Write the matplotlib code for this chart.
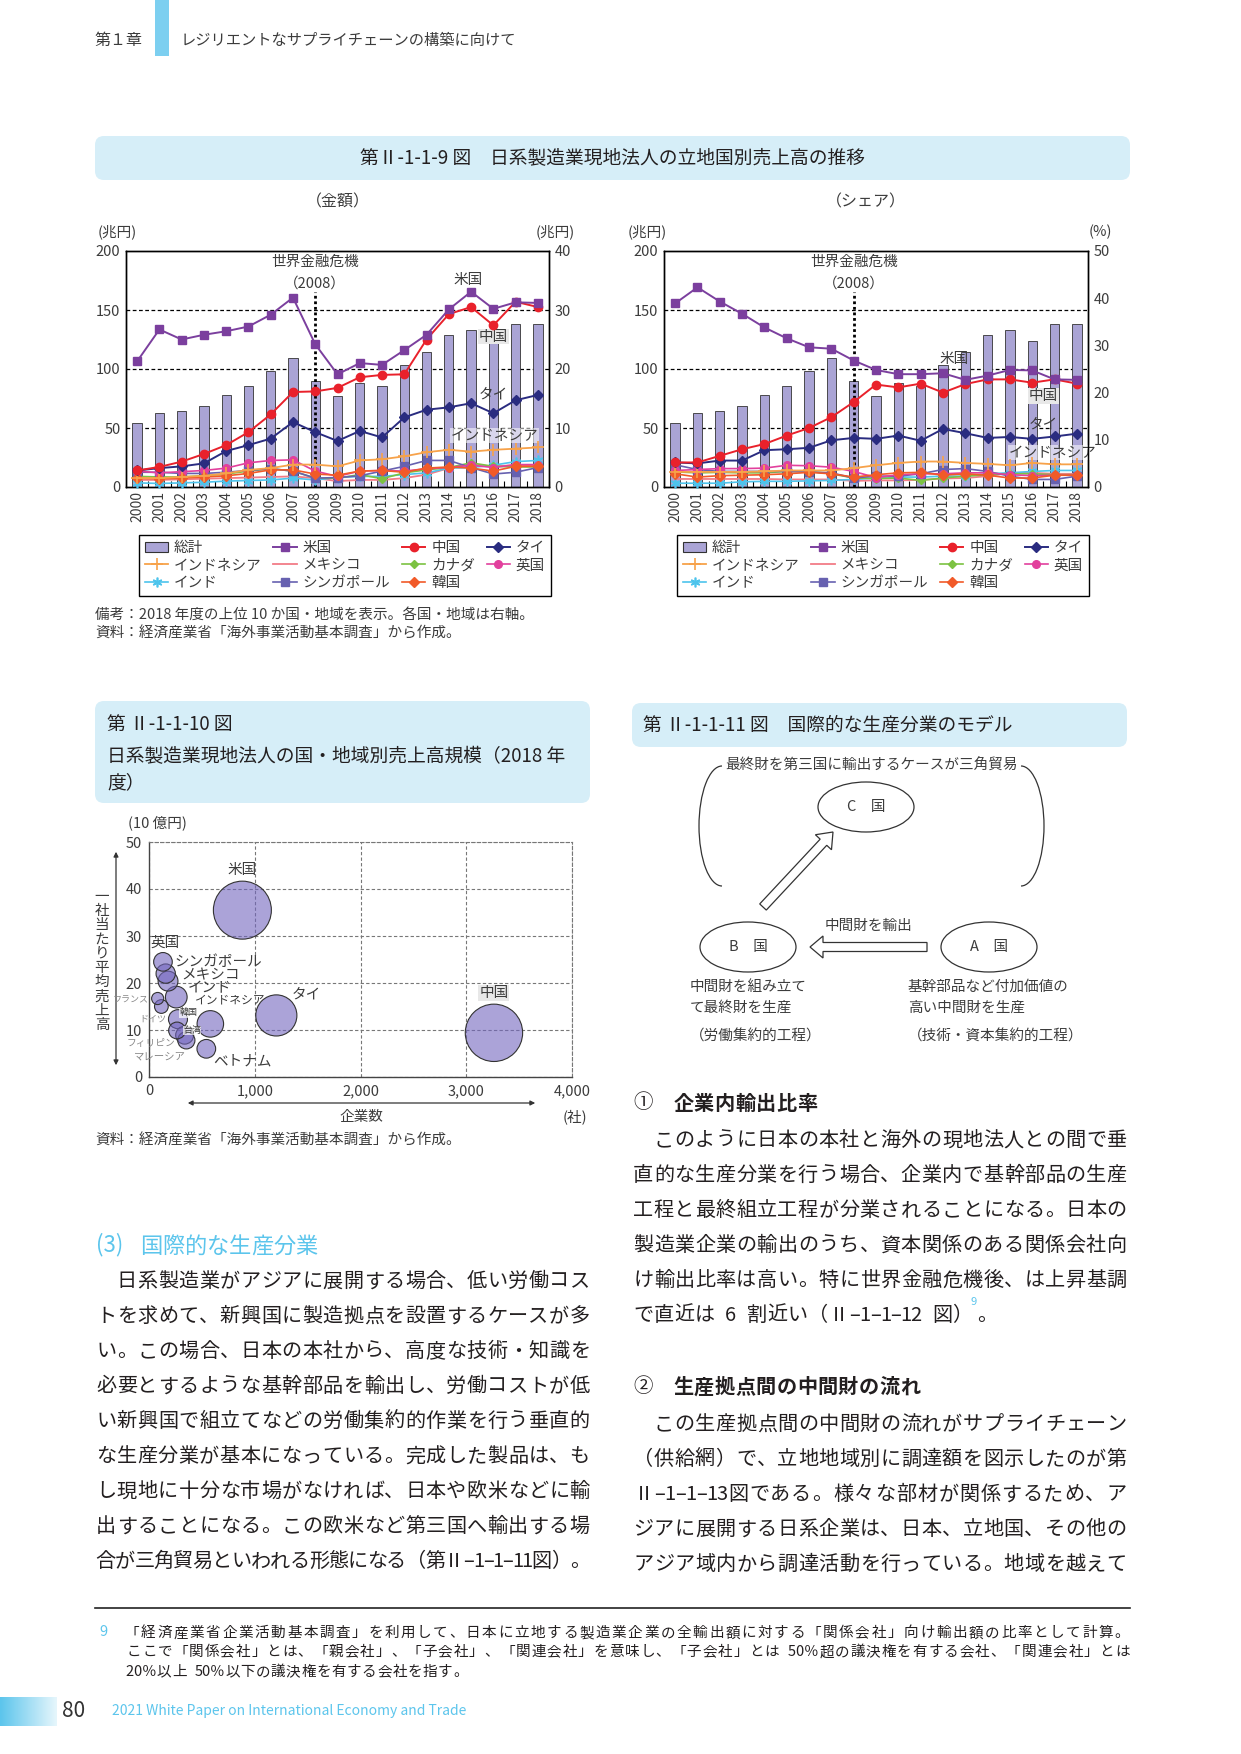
import numpy as np
import matplotlib
matplotlib.use('Agg')
import matplotlib.pyplot as plt
from matplotlib.patches import FancyBboxPatch, Ellipse, Arc, FancyArrow, Rectangle
from matplotlib.lines import Line2D

plt.rcParams['font.family'] = ['Noto Sans CJK JP', 'DejaVu Sans']

# ---------------- data: 第II-1-1-9図 (兆円 / %) ----------------
years = list(range(2000, 2019))
total = [54, 63, 64, 69, 78, 86, 98, 109, 90, 77, 88, 86, 103, 114, 129, 133, 124, 138, 138]

amt_us = [21.3, 26.7, 25.0, 25.8, 26.4, 27.2, 29.2, 32.1, 24.2, 19.1, 21.0, 20.7, 23.2, 25.8, 30.1, 33.1, 30.2, 31.3, 31.2]
amt_cn = [2.8, 3.4, 4.3, 5.6, 7.1, 9.3, 12.3, 16.1, 16.2, 16.8, 18.6, 19.0, 19.1, 25.0, 29.3, 30.5, 27.4, 31.4, 30.5]
amt_th = [2.8, 3.2, 3.5, 4.0, 6.1, 7.1, 8.2, 11.0, 9.3, 7.8, 9.5, 8.4, 11.8, 13.1, 13.5, 14.2, 12.5, 14.7, 15.6]
amt_id = [1.5, 1.5, 1.7, 1.9, 2.3, 2.9, 3.2, 3.8, 3.8, 3.5, 4.5, 4.7, 5.2, 5.9, 6.3, 6.0, 6.3, 6.5, 6.7]
amt_mx = [1.2, 1.2, 1.3, 1.4, 1.5, 1.6, 1.7, 1.8, 1.5, 1.0, 1.2, 1.2, 1.5, 2.1, 3.2, 3.8, 3.5, 3.7, 3.7]
amt_ca = [1.8, 1.7, 1.7, 1.9, 2.2, 2.7, 3.1, 2.7, 1.5, 1.5, 2.1, 1.4, 2.4, 2.9, 3.3, 4.1, 3.5, 3.4, 3.4]
amt_uk = [2.7, 2.4, 2.6, 2.8, 3.2, 4.1, 4.5, 4.6, 2.7, 1.8, 2.7, 2.8, 2.7, 3.1, 3.3, 3.7, 3.3, 3.8, 3.8]
amt_in = [0.7, 0.6, 0.7, 0.8, 1.0, 1.1, 1.2, 1.5, 1.2, 1.6, 1.8, 1.8, 2.1, 2.4, 3.2, 3.3, 3.7, 4.3, 4.5]
amt_sg = [2.5, 2.5, 2.3, 2.3, 2.5, 2.8, 3.1, 2.7, 1.5, 1.6, 1.9, 2.7, 3.5, 4.5, 4.5, 3.3, 2.2, 2.5, 3.3]
amt_kr = [1.5, 1.4, 1.5, 1.7, 1.9, 2.3, 2.9, 2.9, 2.2, 2.0, 2.7, 2.8, 2.5, 3.2, 3.4, 3.2, 2.7, 3.5, 3.5]

sh_us = [38.9, 42.3, 39.3, 36.7, 33.8, 31.5, 29.6, 29.3, 26.8, 24.8, 23.9, 23.9, 24.1, 22.7, 23.6, 24.8, 24.7, 22.8, 22.7]
sh_cn = [5.2, 5.2, 6.6, 8.0, 9.1, 10.9, 12.5, 14.8, 18.0, 21.7, 21.1, 21.9, 20.0, 21.8, 22.8, 22.8, 22.1, 22.8, 21.9]
sh_th = [5.2, 5.0, 5.6, 5.6, 7.8, 8.0, 8.3, 9.9, 10.4, 10.2, 10.9, 9.8, 12.3, 11.4, 10.4, 10.6, 10.2, 10.7, 11.3]
sh_id = [3.2, 3.2, 3.2, 3.2, 3.3, 3.5, 3.5, 3.5, 4.0, 4.6, 5.1, 5.4, 5.4, 5.1, 4.9, 4.6, 5.1, 4.8, 4.8]
sh_mx = [1.7, 1.7, 1.7, 1.7, 1.7, 1.6, 1.6, 1.6, 1.3, 1.4, 1.4, 1.5, 1.8, 1.9, 2.3, 3.0, 3.0, 2.8, 2.8]
sh_ca = [3.2, 3.0, 3.1, 3.0, 3.0, 3.3, 3.3, 2.8, 1.9, 1.8, 1.9, 1.4, 1.9, 2.3, 2.6, 2.8, 2.8, 2.6, 2.6]
sh_uk = [3.5, 3.7, 3.9, 3.9, 4.0, 4.6, 4.5, 4.2, 3.3, 2.0, 2.6, 2.8, 2.8, 3.0, 3.0, 2.6, 2.4, 2.5, 2.5]
sh_in = [0.8, 0.8, 0.8, 1.1, 1.2, 1.2, 1.3, 1.4, 1.6, 1.9, 2.1, 2.1, 2.3, 2.3, 2.8, 3.0, 3.3, 3.5, 3.5]
sh_sg = [4.7, 3.7, 3.3, 3.3, 3.3, 3.3, 3.2, 3.0, 1.9, 2.3, 2.3, 2.8, 3.7, 3.9, 3.3, 2.3, 1.6, 1.6, 2.3]
sh_kr = [2.8, 2.1, 2.4, 2.5, 2.6, 2.8, 3.1, 2.8, 2.1, 2.6, 3.0, 3.1, 2.5, 2.8, 2.5, 1.9, 1.9, 2.5, 2.5]

names = ['メキシコ', 'インド', 'カナダ', 'シンガポール', '英国', '韓国', 'インドネシア', 'タイ', '中国', '米国']
amt_lists = [amt_mx, amt_in, amt_ca, amt_sg, amt_uk, amt_kr, amt_id, amt_th, amt_cn, amt_us]
sh_lists = [sh_mx, sh_in, sh_ca, sh_sg, sh_uk, sh_kr, sh_id, sh_th, sh_cn, sh_us]
legend_order = ['総計', 'インドネシア', 'インド', '米国', 'メキシコ', 'シンガポール', '中国', 'カナダ', '韓国', 'タイ', '英国']

# ---------------- data: 第II-1-1-10図 (2018年度) ----------------
bub_names = ['米国', '中国', 'タイ', 'インドネシア', 'インド', 'メキシコ', 'シンガポール', '英国',
             'フランス', 'ドイツ', '韓国', 'フィリピン', '台湾', 'マレーシア', 'ベトナム']
bub_firms = [883, 3262, 1204, 580, 258, 180, 158, 132, 82, 117, 274, 265, 337, 353, 542]
bub_sales = [35.5, 9.4, 13.1, 11.3, 17.0, 20.4, 22.0, 24.5, 16.7, 15.0, 12.3, 9.9, 8.9, 7.8, 6.0]

# ---------------- styles ----------------
W, H = 1241, 1754
BAR = '#aaa4d5'
CT = '#3c3c3c'
TXT = '#231f20'
CYAN = '#5cc5ec'
BOXC = '#d6eef8'
styles = {
    '米国': dict(color='#7b3f9e', marker='s', ms=5.5, lw=1.4),
    '中国': dict(color='#e9212b', marker='o', ms=6, lw=1.4),
    'タイ': dict(color='#2a2c80', marker='D', ms=5, lw=1.4),
    'インドネシア': dict(color='#f7a24a', marker='+', ms=8, mew=1.2, lw=1.3),
    'メキシコ': dict(color='#f27c87', marker='None', lw=1.3),
    'カナダ': dict(color='#7cc242', marker='D', ms=4.5, lw=1.2),
    '英国': dict(color='#e2409d', marker='o', ms=5.5, lw=1.2),
    'インド': dict(color='#4dc4ec', marker=(6, 2, 0), ms=7, mew=1.2, lw=1.2),
    'シンガポール': dict(color='#6761b0', marker='s', ms=5.5, lw=1.2),
    '韓国': dict(color='#f15a29', marker='D', ms=5, lw=1.2),
}

fig = plt.figure(figsize=(W / 100, H / 100), dpi=100)
fig.patch.set_facecolor('white')
page = fig.add_axes([0, 0, 1, 1])
page.set_xlim(0, W)
page.set_ylim(H, 0)
page.axis('off')


def px_axes(x0, y0, x1, y1):
    return fig.add_axes([x0 / W, 1 - y1 / H, (x1 - x0) / W, (y1 - y0) / H])


def rbox(x0, y0, x1, y1, r=9):
    page.add_patch(FancyBboxPatch((x0, y0), x1 - x0, y1 - y0,
                                  boxstyle='round,pad=0,rounding_size=%d' % r,
                                  fc=BOXC, ec='none', zorder=0))


def jtext(s, x0, y, x1=None, pitch=20.6, size=14.5, color=TXT, weight='normal'):
    # place characters one by one, full width = 1 unit, ascii = 0.5
    units = [0.5 if ord(c) < 0x2100 else 1.0 for c in s]
    if x1 is not None:
        pitch = (x1 - x0) / sum(units)
    em = size * 100 / 72
    x = x0
    for c, u in zip(s, units):
        if c.strip():
            page.text(x + u * pitch / 2, y + 0.36 * em, c, ha='center', va='baseline',
                      fontsize=size, color=color, fontweight=weight)
        x += u * pitch
    return x


# ---------------- page header ----------------
page.add_patch(Rectangle((155, 0), 14, 56, fc='#7ccff0', ec='none'))
page.text(94, 40, '第１章', fontsize=11.5, color=CT, va='center')
page.text(181, 40, 'レジリエントなサプライチェーンの構築に向けて', fontsize=11, color=CT, va='center')

# ---------------- figure 9 ----------------
rbox(95, 136, 1130, 180)
page.text(612, 158, '第Ⅱ-1-1-9 図　日系製造業現地法人の立地国別売上高の推移',
          fontsize=13.5, color=TXT, ha='center', va='center')
page.text(338, 202, '（金額）', fontsize=11.5, color=CT, ha='center', va='center')
page.text(866, 202, '（シェア）', fontsize=11.5, color=CT, ha='center', va='center')

idx = np.arange(len(years))


def panel(x0, x1, lists, rmax, rlab, labels, lunit_x, runit_x):
    ax = px_axes(x0, 251, x1, 487)
    ax.set_facecolor('none')
    ax.bar(idx, total, width=0.42, color=BAR, edgecolor='#333333', linewidth=0.6, zorder=2)
    for v in (50, 100, 150):
        ax.axhline(v, color='black', ls=(0, (3, 2)), lw=0.9, zorder=1)
    ax.plot([8, 8], [0, 165], color='black', ls=(0, (1, 1)), lw=2.0, zorder=4)
    ax.set_xlim(-0.5, 18.5)
    ax.set_ylim(0, 200)
    ax.set_yticks(range(0, 201, 50))
    ax.set_xticks(idx)
    ax.set_xticklabels([str(y) for y in years], rotation=90, fontsize=10, color=CT)
    ax.set_xticks(idx + 0.5, minor=True)
    ax.tick_params(axis='x', which='both', direction='in', length=4, pad=3, width=0.8)
    ax.tick_params(axis='y', direction='in', length=0, pad=4, labelsize=10.5, labelcolor=CT)
    ax2 = ax.twinx()
    for n, vals in zip(names, lists):
        st = dict(styles[n])
        ax2.plot(idx, vals, color=st['color'], marker=st['marker'], ms=st.get('ms', 5),
                 mew=st.get('mew', 1), lw=st['lw'], zorder=3, clip_on=False)
    ax2.set_ylim(0, rmax)
    ax2.set_yticks(range(0, rmax + 1, 10))
    ax2.tick_params(axis='y', direction='in', length=0, pad=4, labelsize=10.5, labelcolor=CT)
    for a in (ax, ax2):
        for s in a.spines.values():
            s.set_linewidth(1.0)
            s.set_color('black')
    ax.text(8, 191, '世界金融危機', fontsize=10.5, color=CT, ha='center', va='center', zorder=6)
    ax.text(8, 172.5, '（2008）', fontsize=10.5, color=CT, ha='center', va='center', zorder=6)
    for lab, lx, ly, bg in labels:
        bb = None
        if bg == 'gray':
            bb = dict(fc='#e8e8e8', ec='none', pad=0.5)
        elif bg == 'white':
            bb = dict(fc='white', ec='none', alpha=0.55, pad=0.3)
        ax.text(lx, ly, lab, fontsize=10.5, color=CT, ha='center', va='center', bbox=bb, zorder=7)
    page.text(lunit_x, 232, '(兆円)', fontsize=10.5, color=CT, ha='center', va='center')
    page.text(runit_x, 232, rlab, fontsize=10.5, color=CT, ha='center', va='center')
    return ax, ax2


panel(126, 549, amt_lists, 40, '(兆円)',
      [('米国', 14.85, 175.5, None), ('中国', 16.0, 127.5, 'gray'),
       ('タイ', 16.0, 78, None), ('インドネシア', 16.05, 44, 'white')], 117, 555)
panel(664, 1088, sh_lists, 50, '(%)',
      [('米国', 12.5, 108.6, None), ('中国', 16.5, 77, 'gray'),
       ('タイ', 16.5, 53, None), ('インドネシア', 16.9, 29.6, 'white')], 647, 1100)

# legends
handles = {'総計': Rectangle((0, 0), 1, 1, fc=BAR, ec='#333333', lw=0.8)}
for n in names:
    st = styles[n]
    handles[n] = Line2D([], [], color=st['color'], marker=st['marker'], ms=st.get('ms', 5),
                        mew=st.get('mew', 1), lw=st['lw'])
for lx in (139, 677):
    fig.legend([handles[n] for n in legend_order], legend_order, loc='upper left',
               bbox_to_anchor=(lx / W, 1 - 535 / H), ncol=4, fontsize=10.5,
               handlelength=1.6, handletextpad=0.4, columnspacing=0.8, borderpad=0.4,
               labelspacing=0.25, borderaxespad=0, fancybox=False, edgecolor='black',
               framealpha=1, labelcolor=CT).get_frame().set_linewidth(1.0)

page.text(95, 615, '備考：2018 年度の上位 10 か国・地域を表示。各国・地域は右軸。',
          fontsize=10.5, color=CT, va='center')
page.text(95, 634, '資料：経済産業省「海外事業活動基本調査」から作成。',
          fontsize=10.5, color=CT, va='center')

# ---------------- figure 10 ----------------
rbox(95, 701, 590, 803)
page.text(107, 724, '第 Ⅱ-1-1-10 図', fontsize=13.5, color=TXT, va='center')
page.text(107, 757, '日系製造業現地法人の国・地域別売上高規模（2018 年', fontsize=13.5, color=TXT, va='center')
page.text(107, 783, '度）', fontsize=13.5, color=TXT, va='center')

axb = px_axes(149, 842, 572, 1077)
axb.set_xlim(0, 4000)
axb.set_ylim(0, 50)
axb.set_xticks([0, 1000, 2000, 3000, 4000])
axb.set_xticklabels(['0', '1,000', '2,000', '3,000', '4,000'])
axb.set_yticks(range(0, 51, 10))
axb.tick_params(length=0, labelsize=10.5, labelcolor=CT, pad=5)
axb.grid(True, ls=(0, (3, 2)), color='#777777', lw=0.8)
axb.set_axisbelow(True)
for k in ('top', 'right'):
    axb.spines[k].set_linestyle((0, (3, 2)))
    axb.spines[k].set_color('#777777')
    axb.spines[k].set_linewidth(0.8)
for k in ('left', 'bottom'):
    axb.spines[k].set_color('#444444')
    axb.spines[k].set_linewidth(1.0)
bx = np.array(bub_firms, float)
by = np.array(bub_sales, float)
sz = 0.0556 * bx * by
order = np.argsort(-sz)
axb.scatter(bx[order], by[order], s=sz[order], fc=(0.45, 0.40, 0.75, 0.6),
            ec='#333333', lw=0.8, zorder=3, clip_on=False)

bub_labels = [
    ('米国', 883, 44, 'center', 10.5, CT, False),
    ('中国', 3260, 17.9, 'center', 10.5, CT, 'gray'),
    ('タイ', 1346, 17.6, 'left', 10.5, CT, False),
    ('英国', 148, 28.5, 'center', 10.5, CT, False),
    ('シンガポール', 243, 24.5, 'left', 10.5, CT, False),
    ('メキシコ', 306, 21.7, 'left', 10.5, CT, False),
    ('インド', 369, 18.8, 'left', 10.5, CT, False),
    ('インドネシア', 432, 16.3, 'left', 8.5, CT, False),
    ('ベトナム', 605, 3.2, 'left', 10.5, CT, False),
    ('フランス', -5, 16.5, 'right', 6.5, '#888888', False),
    ('ドイツ', 32, 12.4, 'center', 6.5, '#888888', False),
    ('韓国', 375, 13.7, 'center', 6.5, CT, 'white'),
    ('台湾', 407, 9.9, 'center', 6.5, CT, 'white'),
    ('フィリピン', 22, 7.3, 'center', 7, '#888888', False),
    ('マレーシア', 101, 4.3, 'center', 7.5, '#888888', False),
]
for lab, lx, ly, ha, fs, col, bg in bub_labels:
    bb = None
    if bg == 'gray':
        bb = dict(fc='#e8e8e8', ec='none', pad=0.5)
    elif bg == 'white':
        bb = dict(fc='white', ec='none', alpha=0.7, pad=0.3)
    axb.text(lx, ly, lab, fontsize=fs, color=col, ha=ha, va='center', zorder=5,
             bbox=bb, clip_on=False)

page.text(157, 823, '(10 億円)', fontsize=10.5, color=CT, ha='center', va='center')
for i, c in enumerate('一社当たり平均売上高'):
    page.text(102, 897 + i * 14.2, c, fontsize=10.5, color=CT, ha='center', va='center')
page.annotate('', xy=(116, 849), xytext=(116, 1068),
              arrowprops=dict(arrowstyle='<|-|>', color='#333333', lw=0.9, mutation_scale=7))
page.annotate('', xy=(185, 1103), xytext=(538, 1103),
              arrowprops=dict(arrowstyle='<|-|>', color='#333333', lw=0.9, mutation_scale=7))
page.text(361, 1117, '企業数', fontsize=10.5, color=CT, ha='center', va='center')
page.text(575, 1117, '(社)', fontsize=10.5, color=CT, ha='center', va='center')
page.text(95, 1141, '資料：経済産業省「海外事業活動基本調査」から作成。', fontsize=10.5, color=CT, va='center')

# ---------------- figure 11 (diagram) ----------------
rbox(632, 703, 1127, 747)
page.text(643, 725, '第 Ⅱ-1-1-11 図　国際的な生産分業のモデル', fontsize=13.5, color=TXT, va='center')
page.text(872, 766, '最終財を第三国に輸出するケースが三角貿易', fontsize=10.5, color=CT,
          ha='center', va='center')
page.add_patch(Arc((722, 826), 46, 120, theta1=90, theta2=270, color='#333333', lw=0.9))
page.add_patch(Arc((1021, 826), 46, 120, theta1=-90, theta2=90, color='#333333', lw=0.9))
for cx, cy, lab in ((866, 807, 'C　国'), (748, 947, 'B　国'), (989, 947, 'A　国')):
    page.add_patch(Ellipse((cx, cy), 96, 50, fc='white', ec='#333333', lw=0.9))
    page.text(cx, cy, lab, fontsize=10.5, color=CT, ha='center', va='center')
page.add_patch(FancyArrow(927, 947, -117, 0, width=9, head_width=22, head_length=13,
                          length_includes_head=True, fill=False, ec='#333333', lw=0.9))
page.add_patch(FancyArrow(763, 907, 70, -75, width=9, head_width=22, head_length=14,
                          length_includes_head=True, fill=False, ec='#333333', lw=0.9))
page.text(868, 926, '中間財を輸出', fontsize=10.5, color=CT, ha='center', va='center')
page.text(690, 987, '中間財を組み立て', fontsize=10.5, color=CT, va='center')
page.text(690, 1008, 'て最終財を生産', fontsize=10.5, color=CT, va='center')
page.text(690, 1037, '（労働集約的工程）', fontsize=10.5, color=CT, va='center')
page.text(908, 987, '基幹部品など付加価値の', fontsize=10.5, color=CT, va='center')
page.text(908, 1008, '高い中間財を生産', fontsize=10.5, color=CT, va='center')
page.text(908, 1037, '（技術・資本集約的工程）', fontsize=10.5, color=CT, va='center')

# ---------------- body text ----------------
page.text(96, 1245, '(3)', fontsize=16, color=CYAN, va='center')
jtext('国際的な生産分業', 140, 1245, pitch=22.2, size=16, color=CYAN)
left_lines = [
    '　日系製造業がアジアに展開する場合、低い労働コス',
    'トを求めて、新興国に製造拠点を設置するケースが多',
    'い。この場合、日本の本社から、高度な技術・知識を',
    '必要とするような基幹部品を輸出し、労働コストが低',
    'い新興国で組立てなどの労働集約的作業を行う垂直的',
    'な生産分業が基本になっている。完成した製品は、も',
    'し現地に十分な市場がなければ、日本や欧米などに輸',
    '出することになる。この欧米など第三国へ輸出する場',
    '合が三角貿易といわれる形態になる（第Ⅱ–1–1–11図）。',
]
for i, s in enumerate(left_lines):
    jtext(s, 96, 1280 + 35 * i, x1=590)

page.text(633, 1103, '①', fontsize=14, color=TXT, va='center')
jtext('企業内輸出比率', 673, 1103, size=14.5, weight='bold')
r1 = [
    '　このように日本の本社と海外の現地法人との間で垂',
    '直的な生産分業を行う場合、企業内で基幹部品の生産',
    '工程と最終組立工程が分業されることになる。日本の',
    '製造業企業の輸出のうち、資本関係のある関係会社向',
    'け輸出比率は高い。特に世界金融危機後、は上昇基調',
]
for i, s in enumerate(r1):
    jtext(s, 633, 1139 + 35 * i, x1=1127)
xe = jtext('で直近は 6 割近い（Ⅱ–1–1–12 図）', 633, 1314)
page.text(xe - 2, 1302, '9', fontsize=8, color=CYAN, va='center')
jtext('。', xe + 4, 1314)

page.text(633, 1386, '②', fontsize=14, color=TXT, va='center')
jtext('生産拠点間の中間財の流れ', 673, 1386, size=14.5, weight='bold')
r2 = [
    '　この生産拠点間の中間財の流れがサプライチェーン',
    '（供給網）で、立地地域別に調達額を図示したのが第',
    'Ⅱ–1–1–13図である。様々な部材が関係するため、ア',
    'ジアに展開する日系企業は、日本、立地国、その他の',
    'アジア域内から調達活動を行っている。地域を越えて',
]
for i, s in enumerate(r2):
    jtext(s, 633, 1423 + 35 * i, x1=1127)

# ---------------- footnote & footer ----------------
page.plot([95, 1130], [1608, 1608], color='#222222', lw=1.2)
page.text(103, 1632, '9', fontsize=10.5, color=CYAN, ha='center', va='center')
fn1 = '「経済産業省企業活動基本調査」を利用して、日本に立地する製造業企業の全輸出額に対する「関係会社」向け輸出額の比率として計算。'
fn2 = 'ここで「関係会社」とは、「親会社」、「子会社」、「関連会社」を意味し、「子会社」とは 50％超の議決権を有する会社、「関連会社」とは'
fn3 = '20％以上 50％以下の議決権を有する会社を指す。'
jtext(fn1, 124, 1632, x1=1130, size=10.5)
jtext(fn2, 126, 1651, x1=1130, size=10.5)
jtext(fn3, 126, 1671, pitch=15.2, size=10.5)

grad = np.linspace(0, 1, 64).reshape(1, -1)
page.imshow(grad, extent=(0, 57, 1726, 1697), cmap=matplotlib.colors.LinearSegmentedColormap.from_list(
    'g', ['#5cc5ec', '#e6f6fc']), aspect='auto', zorder=1)
page.set_xlim(0, W)
page.set_ylim(H, 0)
page.text(62, 1711, '80', fontsize=15, color='#333333', va='center')
page.text(112, 1711, '2021 White Paper on International Economy and Trade', fontsize=10,
          color=CYAN, va='center')

fig.savefig('out.png', dpi=100)
